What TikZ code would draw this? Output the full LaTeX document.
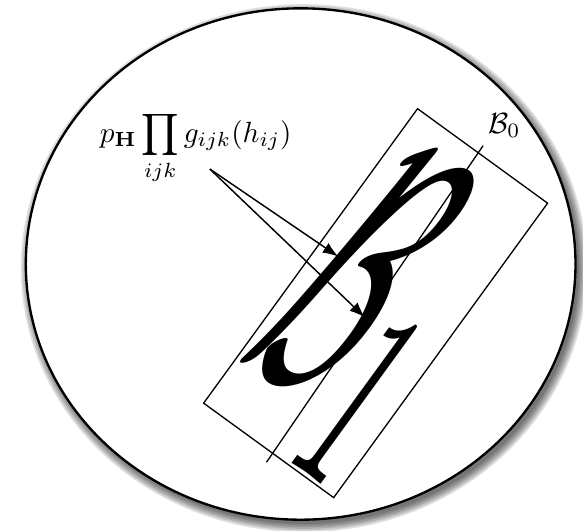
\documentclass[tikz,border=0pt]{standalone}
\usepackage{amsmath,amssymb}
\usepackage{graphicx}
\usetikzlibrary{arrows.meta}

\begin{document}
\begin{tikzpicture}[
  >=Latex,
  disc/.style={draw, line width=0.8pt, fill=white},
  slab/.style={draw, line width=0.45pt, inner sep=0pt, rotate=-36,
    minimum width=1.93cm, minimum height=4.37cm},
  pointer/.style={->, line width=0.5pt},
  axis/.style={line width=0.45pt}
]
\useasboundingbox (0,0) rectangle (7.0,6.37);
% soft shadow under the disc
\foreach \d in {0.00,0.02,...,0.12}
  \fill[black, opacity=0.12] (3.65,3.15) ellipse ({3.30+\d} and {3.07+\d});
\path[disc] (3.61,3.20) ellipse (3.30 and 3.07);

\node[slab] (bone) at (4.51,2.73)
  {\raisebox{-4.3pt}[\height][\depth]{\scalebox{4.9}[13.6]{$\mathcal{B}_1$}}};

\coordinate (axbot) at (3.20,0.82);
\coordinate (axtop) at (5.80,4.62);
\draw[axis] (axbot) -- (axtop);
\node[anchor=south west, inner sep=0.5pt] (bzero) at ([shift={(1pt,2pt)}]axtop) {$\mathcal{B}_0$};

\node (prod) at (2.35,4.59) {$\displaystyle p_{\mathbf{H}}\prod_{ijk} g_{ijk}(h_{ij})$};
\coordinate (src) at (2.52,4.34);
\coordinate (tipa) at (4.06,3.29);
\coordinate (tipb) at (4.38,2.56);
\draw[pointer] (src) -- (tipa);
\draw[pointer] (src) -- (tipb);
\end{tikzpicture}
\end{document}
